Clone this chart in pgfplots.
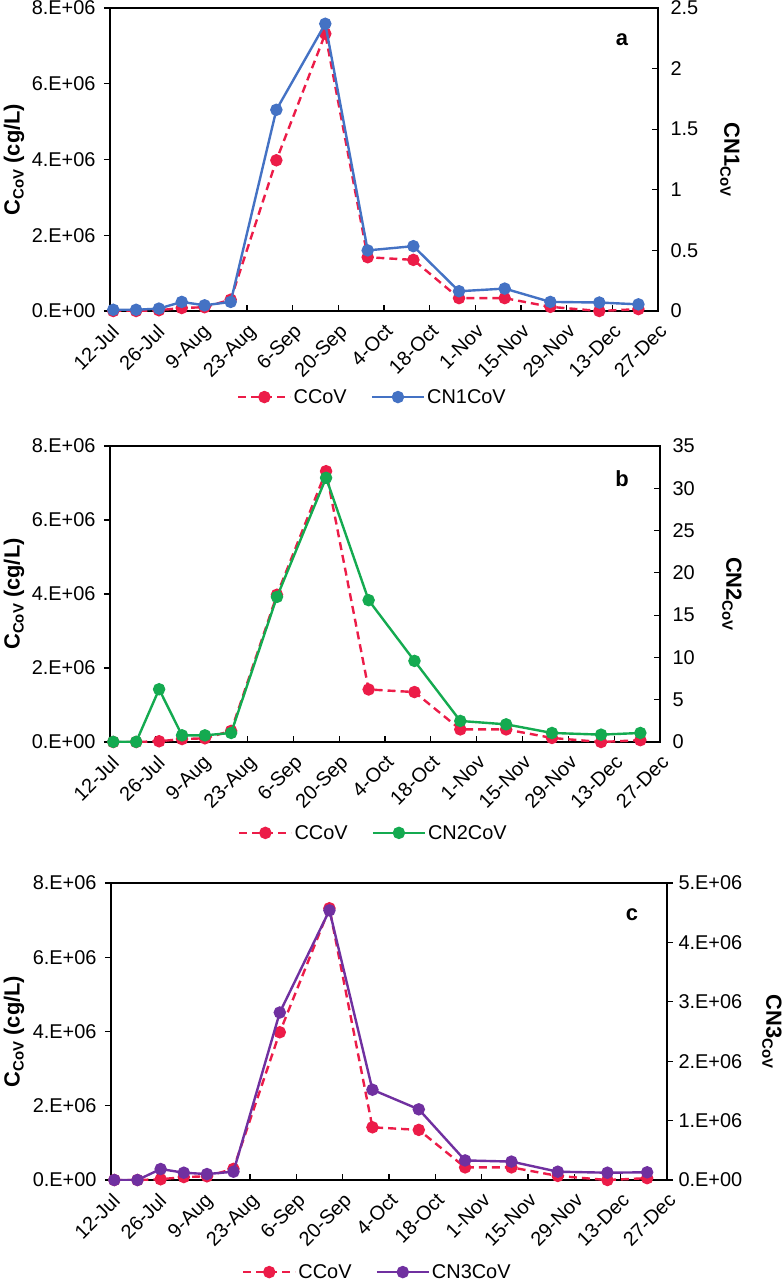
\documentclass[border=0pt]{standalone}
\usepackage{pgfplots}
\usepackage{pgfplotstable}
\pgfplotsset{compat=1.18}
\usepackage{fontspec}
\setmainfont{Liberation Sans}

\definecolor{cred}{RGB}{236,28,72}
\definecolor{cblue}{RGB}{68,114,196}
\definecolor{cgreen}{RGB}{20,170,80}
\definecolor{cpurple}{RGB}{112,48,160}

% day = days after 12-Jul
\pgfplotstableread{
day ccov    cn1   cn2   cn3
1   0       0.01  0.02  0
8   0       0.01  0.02  0
15  2e4     0.02  6.24  1.85e5
22  8e4     0.075 0.79  1.23e5
29  1.0e5   0.047 0.79  1.0e5
37  3.0e5   0.075 1.07  1.4e5
51  3.98e6  1.66  17.16 2.82e6
66  7.32e6  2.37  31.24 4.54e6
79  1.42e6  0.50  16.77 1.52e6
93  1.35e6  0.535 9.59  1.19e6
107 3.4e5   0.163 2.49  3.3e5
121 3.4e5   0.185 2.09  3.1e5
135 1.1e5   0.075 1.07  1.4e5
150 0       0.07  0.87  1.23e5
162 5e4     0.055 1.07  1.3e5
}\datatable

\pgfplotsset{
  base/.style={scale only axis, xmin=0, xmax=168, enlargelimits=false,
    axis line style={line width=1.2bp, black},
    every tick/.style={line width=1.1bp, black},
    major tick length=6bp,
    tick label style={font=\fontsize{20}{23}\selectfont},
  },
  pleft/.style={base,
    xtick={0,14,...,168},
    xticklabels={12-Jul,26-Jul,9-Aug,23-Aug,6-Sep,20-Sep,4-Oct,18-Oct,1-Nov,15-Nov,29-Nov,13-Dec,27-Dec},
    xtick pos=bottom, ytick pos=left,
    xtick align=inside, ytick align=outside,
    ymin=0, ymax=8e6, ytick={0,2e6,4e6,6e6,8e6},
    yticklabels={0.E+00,2.E+06,4.E+06,6.E+06,8.E+06},
    scaled y ticks=false,
    xticklabel style={rotate=45, anchor=north east},
    xticklabel shift=7bp,
    yticklabel style={xshift=-5bp},
  },
  pright/.style={base, axis x line=none, axis y line*=right, ymin=0,
    legend columns=2,
    legend style={draw=none, anchor=center, font=\fontsize{20}{23}\selectfont,
      /tikz/every even column/.append style={column sep=22bp}},
    legend image code/.code={\draw[##1, mark repeat=2, mark phase=2]
      plot coordinates {(0bp,0bp) (26bp,0bp) (52bp,0bp)};},
  },
  ccovline/.style={cred, line width=2.4bp, dash pattern=on 8bp off 5bp,
    mark=*, mark size=5bp, mark options={solid, fill=cred}},
  ser/.style={#1, line width=2.4bp, mark=*, mark size=5bp, mark options={solid, fill=#1}},
}

\newcommand{\lab}[1]{\fontsize{22}{26}\selectfont\bfseries #1}

\begin{document}
\begin{tikzpicture}
\useasboundingbox (0,0) rectangle (783bp,-1280bp);

% ---------- panel a ----------
\begin{axis}[pleft, at={(110bp,-311bp)}, anchor=south west, width=548bp, height=303bp]
  \addplot[ccovline] table[x=day, y=ccov] {\datatable};
\end{axis}
\begin{axis}[pright, at={(110bp,-311bp)}, anchor=south west, width=548bp, height=303bp,
    ymax=2.5, ytick={0,0.5,1,1.5,2,2.5}, yticklabels={0,0.5,1,1.5,2,2.5},
    ytick align=inside, yticklabel style={xshift=9bp},
    legend style={at={(0.479,-0.284)}}]
  \addlegendimage{ccovline}
  \addlegendentry{CCoV}
  \addplot[ser=cblue] table[x=day, y=cn1] {\datatable};
  \addlegendentry{CN1CoV}
\end{axis}
\node[font=\lab{}] at (622bp,-40bp) {a};
\node[rotate=90] at (14bp,-159.5bp) {\lab{C\raisebox{-4bp}{\fontsize{15}{15}\selectfont CoV} (cg/L)}};
\node[rotate=-90] at (730bp,-159.5bp) {\lab{CN1\raisebox{-4bp}{\fontsize{15}{15}\selectfont CoV}}};

% ---------- panel b ----------
\begin{axis}[pleft, at={(110bp,-742bp)}, anchor=south west, width=550bp, height=296bp]
  \addplot[ccovline] table[x=day, y=ccov] {\datatable};
\end{axis}
\begin{axis}[pright, at={(110bp,-742bp)}, anchor=south west, width=550bp, height=296bp,
    ymax=35, ytick={0,5,...,35}, yticklabels={0,5,10,15,20,25,30,35},
    ytick align=inside, yticklabel style={xshift=9bp},
    legend style={at={(0.479,-0.307)}}]
  \addlegendimage{ccovline}
  \addlegendentry{CCoV}
  \addplot[ser=cgreen] table[x=day, y=cn2] {\datatable};
  \addlegendentry{CN2CoV}
\end{axis}
\node[font=\lab{}] at (622bp,-479bp) {b};
\node[rotate=90] at (14bp,-594bp) {\lab{C\raisebox{-4bp}{\fontsize{15}{15}\selectfont CoV} (cg/L)}};
\node[rotate=-90] at (732bp,-594bp) {\lab{CN2\raisebox{-4bp}{\fontsize{15}{15}\selectfont CoV}}};

% ---------- panel c ----------
\begin{axis}[pleft, at={(111bp,-1180bp)}, anchor=south west, width=556bp, height=297bp]
  \addplot[ccovline] table[x=day, y=ccov] {\datatable};
\end{axis}
\begin{axis}[pright, at={(111bp,-1180bp)}, anchor=south west, width=556bp, height=297bp,
    ymax=5e6, ytick={0,1e6,2e6,3e6,4e6,5e6}, scaled y ticks=false,
    yticklabels={0.E+00,1.E+06,2.E+06,3.E+06,4.E+06,5.E+06},
    ytick align=outside, yticklabel style={xshift=2bp},
    legend style={at={(0.479,-0.31)}}]
  \addlegendimage{ccovline}
  \addlegendentry{CCoV}
  \addplot[ser=cpurple] table[x=day, y=cn3] {\datatable};
  \addlegendentry{CN3CoV}
\end{axis}
\node[font=\lab{}] at (632bp,-915bp) {c};
\node[rotate=90] at (14bp,-1031.5bp) {\lab{C\raisebox{-4bp}{\fontsize{15}{15}\selectfont CoV} (cg/L)}};
\node[rotate=-90] at (772bp,-1031.5bp) {\lab{CN3\raisebox{-4bp}{\fontsize{15}{15}\selectfont CoV}}};
\end{tikzpicture}
\end{document}
